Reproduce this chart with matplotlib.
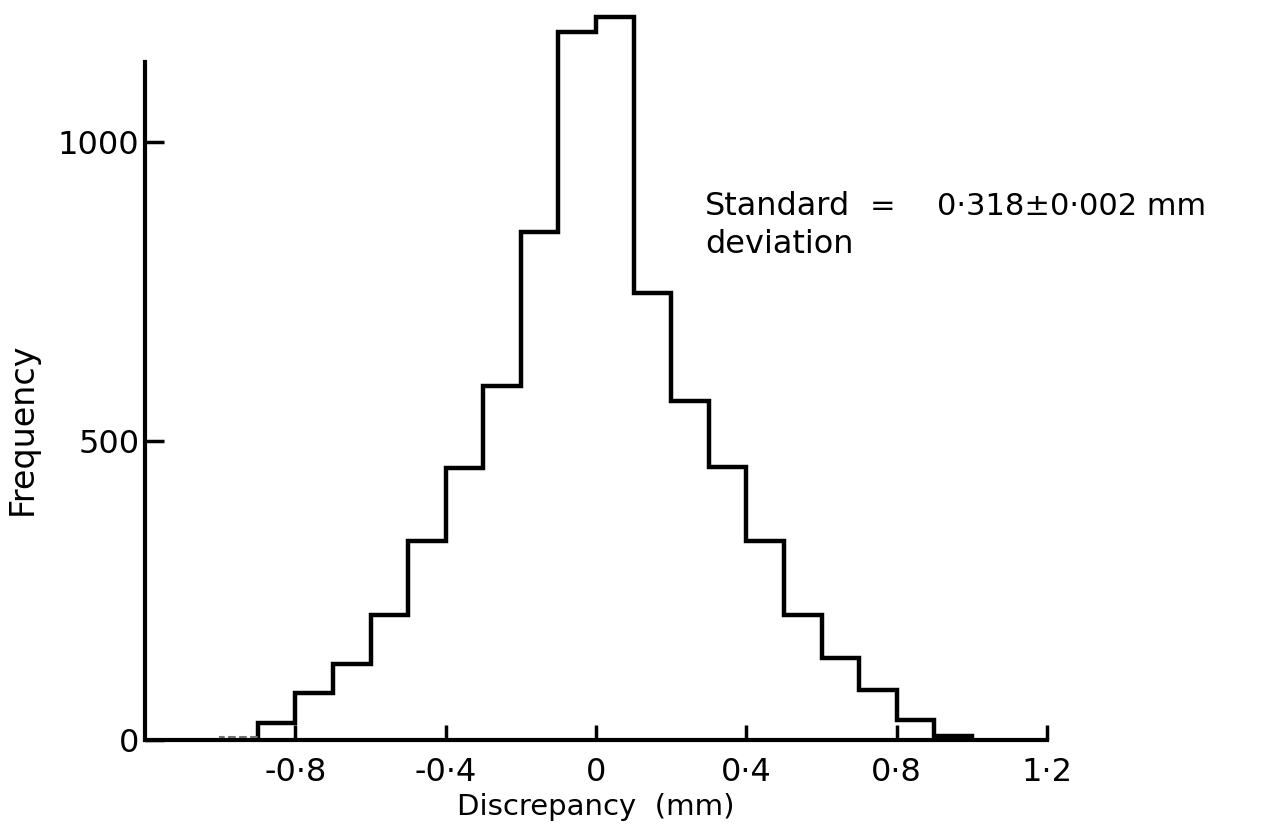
import numpy as np
import matplotlib
matplotlib.use("Agg")
import matplotlib.pyplot as plt

# bin edges (mm) and counts
edges = np.round(np.arange(-0.9, 1.0001, 0.1), 2)
counts = [28, 78, 127, 209, 333, 455, 592, 849, 1184, 1209,
          747, 567, 457, 333, 209, 138, 83, 33, 7]
# faint dashed box left of the main histogram
stray_edges = [-1.0, -0.9]
stray_counts = [5]

xticks = [-0.8, -0.4, 0, 0.4, 0.8, 1.2]
xticklabels = ['-0·8', '-0·4', '0', '0·4', '0·8', '1·2']
yticks = [0, 500, 1000]

plt.rcParams['font.family'] = ['DejaVu Sans']

fig = plt.figure(figsize=(12.63, 8.30), dpi=100)
ax = fig.add_axes([0.1148, 0.1084, 0.7142, 0.8169])

ax.stairs(counts, edges, color='black', linewidth=3.2, clip_on=False)
ax.stairs(stray_counts, stray_edges, color='0.45', linewidth=1.5,
          linestyle='--', clip_on=False)

ax.set_xlim(-1.2, 1.2)
ax.set_ylim(0, 1134)

for side in ['top', 'right']:
    ax.spines[side].set_visible(False)
for side in ['left', 'bottom']:
    ax.spines[side].set_linewidth(3)

ax.set_xticks(xticks)
ax.set_xticklabels(xticklabels)
ax.set_yticks(yticks)
ax.tick_params(axis='x', direction='in', length=11, width=2.5,
               labelsize=23, pad=12)
ax.tick_params(axis='y', direction='in', length=14, width=2.5,
               labelsize=23, pad=4)

ax.set_xlabel('Discrepancy  (mm)', fontsize=21, labelpad=4)
ax.set_ylabel('Frequency', fontsize=24)
ax.yaxis.set_label_coords(-0.118, 0.459)

ax.text(0.29, 893, 'Standard', fontsize=23, va='center', ha='left')
ax.text(0.29, 828, 'deviation', fontsize=23, va='center', ha='left')
ax.text(0.763, 893, '=', fontsize=22, va='center', ha='center')
ax.text(0.907, 893, '0·318±0·002 mm', fontsize=22, va='center', ha='left')

fig.savefig('out.png', dpi=100)
